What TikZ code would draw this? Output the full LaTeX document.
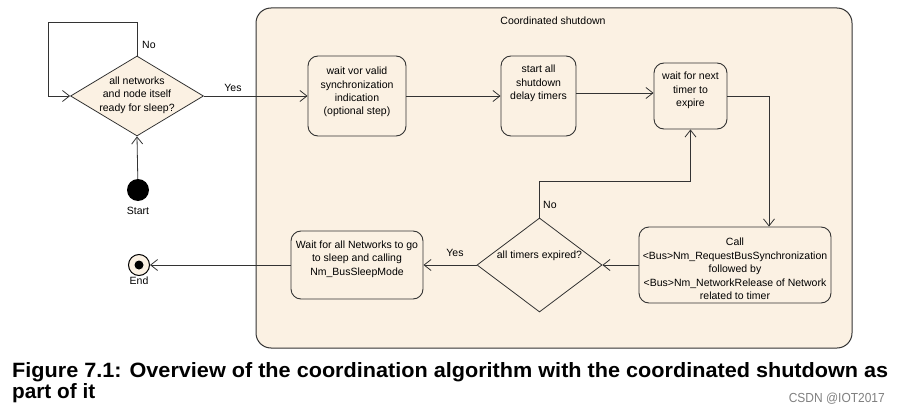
\documentclass[tikz,border=0pt]{standalone}
\usepackage{fontspec}
\setmainfont{Liberation Sans}
\usetikzlibrary{shapes.geometric,arrows.meta}
\definecolor{cream}{HTML}{FBF1E3}
\definecolor{lne}{HTML}{333333}
\tikzset{
  every node/.style={font=\fontsize{10.5}{13.4}\selectfont},
  box/.style={draw=lne, line width=0.9pt, fill=cream, rounded corners=10pt, inner sep=0pt},
  txt/.style={align=center, inner sep=0pt},
  dia/.style={draw=lne, line width=0.8pt, fill=cream, diamond, inner sep=0pt},
  arr/.style={draw=lne, line width=0.8pt, -{Straight Barb[length=7pt,width=11pt,line width=0.8pt]}},
  lbl/.style={inner sep=0pt},
}
\begin{document}
\begin{tikzpicture}[x=1pt,y=-1pt]
\useasboundingbox (0,0) rectangle (900,412);
% container
\node[draw=lne, line width=1pt, fill=cream, rounded corners=15pt, minimum width=596pt, minimum height=340pt, inner sep=0pt] (cs) at (554,178) {};
\node[lbl] (cstitle) at (553,21) {Coordinated shutdown};
% decision 1 and start
\node[dia, minimum width=133pt, minimum height=80pt] (d1) at (137,96) {};
\node[txt] (d1t) at (137,95) {all networks\\and node itself\\ready for sleep?};
\node[circle, fill=black, minimum size=22pt, inner sep=0pt] (start) at (138,190) {};
\node[lbl] (startl) at (138,211) {Start};
% actions
\node[box, minimum width=98pt, minimum height=80pt] (b1) at (357,96) {};
\node[txt] (b1t) at (357,92) {wait vor valid\\synchronization\\indication\\(optional step)};
\node[box, minimum width=75pt, minimum height=80pt] (b2) at (538.5,96) {};
\node[txt] (b2t) at (538.5,83.5) {start all\\shutdown\\delay timers};
\node[box, minimum width=73pt, minimum height=66pt] (b3) at (690.5,96) {};
\node[txt] (b3t) at (690.5,90.5) {wait for next\\timer to\\expire};
\node[box, minimum width=192pt, minimum height=76pt] (b4) at (735,265) {};
\node[txt] (b4t) at (735,269) {Call\\{<}Bus{>}Nm\_RequestBusSynchronization\\followed by\\{<}Bus{>}Nm\_NetworkRelease of Network\\related to timer};
\node[dia, minimum width=125pt, minimum height=94pt] (d2) at (539.5,265) {};
\node[lbl] (d2t) at (539.5,256) {all timers expired?};
\node[box, minimum width=132pt, minimum height=68pt] (b5) at (357,265) {};
\node[txt] (b5t) at (357,259) {Wait for all Networks to go\\to sleep and calling\\Nm\_BusSleepMode};
% end
\node[circle, draw=black, line width=1pt, fill=cream, minimum size=21pt, inner sep=0pt] (end) at (139,265) {};
\node[circle, fill=black, minimum size=9pt, inner sep=0pt] (enddot) at (end) {};
\node[lbl] (endl) at (139,281) {End};
% connectors
\draw[arr] (start) -- (d1.south);
\draw[arr] (d1.north) -- ++(0,-33) -| ([xshift=-22pt]d1.west) -- (d1.west);
\node[lbl, anchor=west] (no1) at (142,45) {No};
\draw[arr] (d1.east) -- (b1.west);
\node[lbl] (yes1) at (233,88) {Yes};
\draw[arr] (b1.east) -- (b2.west);
\draw[arr] ([yshift=3pt]b2.east) -- ([yshift=3pt]b3.west);
\draw[arr] (b3.east) -| ([xshift=34pt]b4.north);
\draw[arr] (b4.west) -- (d2.east);
\draw[arr] (d2.north) -- ++(0,-36) -| (b3.south);
\node[lbl, anchor=west] (no2) at (543,205) {No};
\draw[arr] (d2.west) -- (b5.east);
\node[lbl] (yes2) at (455,253) {Yes};
\draw[arr] (b5.west) -- (end);
% caption
\node[lbl, anchor=base west] (cap1) at (12,377) {\resizebox{876pt}{15pt}{\fontsize{20}{22}\selectfont\bfseries Figure 7.1: Overview of the coordination algorithm with the coordinated shutdown as}};
\node[lbl, anchor=base west] (cap2) at (12,398) {\resizebox{83pt}{15pt}{\fontsize{20}{22}\selectfont\bfseries part of it}};
\node[lbl, anchor=base east, text=gray] (wm) at (885,402) {\resizebox{96pt}{9.5pt}{\fontsize{12}{14}\selectfont CSDN @IOT2017}};
\end{tikzpicture}
\end{document}
